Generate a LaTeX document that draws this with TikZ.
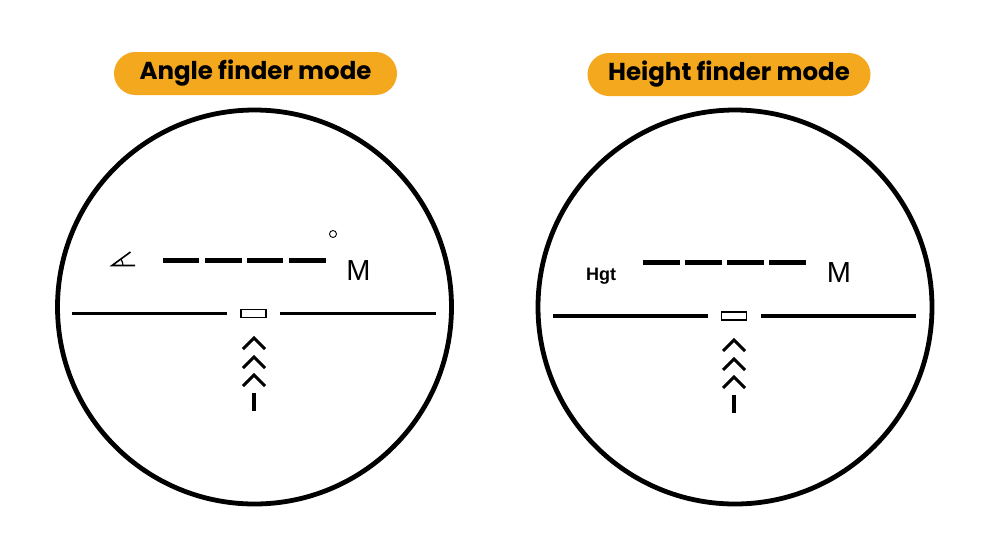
\documentclass[tikz,border=0pt]{standalone}
\usepackage{fontspec}
\setmainfont{Liberation Sans}
\newfontfamily\titlefont{Poppins}
\definecolor{pill}{HTML}{F4A81D}
\begin{document}
\begin{tikzpicture}[x=1pt,y=-1pt,
  scope/.style={draw=black,line width=4.8pt},
  pillbox/.style={fill=pill,rounded corners=21.5pt,minimum width=283pt,minimum height=43pt,inner sep=0pt,font=\titlefont\bfseries\fontsize{24.5}{26}\selectfont},
  hair/.style={line width=3.5pt},
  dashbar/.style={line width=5.5pt},
  chev/.style={line width=3pt,line join=miter},
  reticle/.style={draw,line width=1.3pt,minimum width=25pt,minimum height=8pt,inner sep=0pt},
  unit/.style={font=\fontsize{29}{30}\selectfont,inner sep=0pt}
]
\useasboundingbox[fill=white] (0,0) rectangle (1000,539);
% titles
\node[pillbox] (t1) at (255.5,73.5) {Angle finder mode};
\node[pillbox] (t2) at (729,74.5) {Height finder mode};
% ===== left scope =====
\node[circle,scope,minimum size=394pt,inner sep=0pt] (c1) at (254.5,307) {};
\node[reticle] (r1) at (253.5,313.5) {};
\coordinate (l1a) at (72,313.5);
\coordinate (l1b) at (436,313.5);
\draw[hair] (l1a) -- (227,313.5);
\draw[hair] (280,313.5) -- (l1b);
\foreach \xa/\xb in {163/199,205/242,247/283,289/326}
  \draw[dashbar] (\xa,260.5) -- (\xb,260.5);
\node[unit] (m1) at (358.5,270.5) {M};
\node[draw,circle,line width=0.9pt,minimum size=7pt,inner sep=0pt] (deg1) at (333,234) {};
% angle symbol
\coordinate (av) at (112,265.5);
\draw[line width=1.6pt] (135,265.5) -- (av) -- (130.5,252);
\draw[line width=1.2pt] (123,265.5) arc[start angle=0,end angle=-37,radius=11];
% chevrons
\foreach \ty in {338,357,375}
  \draw[chev] (243,\ty+11) -- (254,\ty) -- (265,\ty+11);
\draw[line width=3.5pt] (254,393) -- (254,411);
% ===== right scope =====
\node[circle,scope,minimum size=394pt,inner sep=0pt] (c2) at (735,307) {};
\node[reticle] (r2) at (734,316) {};
\coordinate (l2a) at (553,316);
\coordinate (l2b) at (916,316);
\draw[hair] (l2a) -- (708,316);
\draw[hair] (761,316) -- (l2b);
\foreach \xa/\xb in {643/680,685/722,727/764,769/806}
  \draw[dashbar] (\xa,262.5) -- (\xb,262.5);
\node[unit] (m2) at (839,272.5) {M};
\node[font=\bfseries\fontsize{18}{19}\selectfont,inner sep=0pt] (hgt) at (601,276.5) {Hgt};
\foreach \ty in {340,359,377}
  \draw[chev] (723,\ty+11) -- (734,\ty) -- (745,\ty+11);
\draw[line width=3.5pt] (734,395) -- (734,413);
\end{tikzpicture}
\end{document}
